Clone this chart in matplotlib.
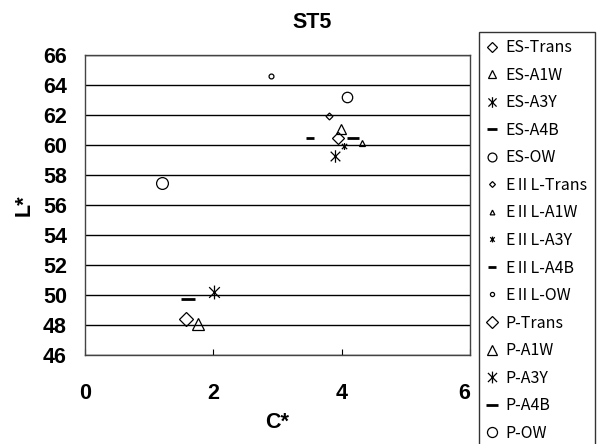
import matplotlib
matplotlib.use("Agg")
import matplotlib.pyplot as plt
from matplotlib.path import Path

# C* / L* readings for ST5, one point per sample
es_labels = ["ES-Trans", "ES-A1W", "ES-A3Y", "ES-A4B", "ES-OW"]
es_c = [3.95, 3.99, 3.89, 4.18, 4.08]
es_l = [60.5, 61.05, 59.3, 60.5, 63.2]

e2l_labels = ["EⅡL-Trans", "EⅡL-A1W", "EⅡL-A3Y", "EⅡL-A4B", "EⅡL-OW"]
e2l_c = [3.80, 4.31, 4.03, 3.50, 2.90]
e2l_l = [61.95, 60.15, 59.93, 60.45, 64.6]

p_labels = ["P-Trans", "P-A1W", "P-A3Y", "P-A4B", "P-OW"]
p_c = [1.57, 1.76, 2.01, 1.61, 1.20]
p_l = [48.4, 48.1, 50.2, 49.75, 57.5]

# x-with-a-vertical-bar star marker
star = Path([(-1, -1), (1, 1), (-1, 1), (1, -1), (0, -1.3), (0, 1.3)],
            [Path.MOVETO, Path.LINETO, Path.MOVETO, Path.LINETO, Path.MOVETO, Path.LINETO])
markers = ["D", "^", star, "_", "o"]

fig = plt.figure(figsize=(6.07, 4.44), dpi=100)
ax = fig.add_axes([85 / 607, 1 - 355 / 444, 385 / 607, 300 / 444])

groups = [(es_labels, es_c, es_l, [6, 7, 9, 9, 7.5]),
          (e2l_labels, e2l_c, e2l_l, [3.5, 4, 5, 6, 3.5]),
          (p_labels, p_c, p_l, [7, 8, 10, 10, 8.5])]
for labels, cs, ls, sizes in groups:
    for lab, c, l, m, s in zip(labels, cs, ls, markers, sizes):
        ax.plot([c], [l], linestyle="none", marker=m, markersize=s,
                markerfacecolor="none", markeredgecolor="black",
                markeredgewidth=2 if m == "_" else 0.9, label=lab)

ax.set_xlim(0, 6)
ax.set_ylim(46, 66)
ax.set_xticks([0, 2, 4, 6])
ax.set_yticks(range(46, 67, 2))
ax.yaxis.grid(True, color="black", linewidth=1)
ax.set_axisbelow(True)
for sp in ax.spines.values():
    sp.set_color("#444444")
    sp.set_linewidth(1)

tick_font = {"family": "Liberation Sans", "weight": "bold", "size": 15.5}
ax.tick_params(axis="x", direction="in", length=4, pad=20)
ax.tick_params(axis="y", length=0, pad=13)
for t in ax.get_xticklabels() + ax.get_yticklabels():
    t.set_fontproperties(tick_font)
ax.get_xticklabels()[-1].set_horizontalalignment("right")

ax.set_xlabel("C*", fontdict=tick_font, labelpad=6)
ax.set_ylabel("L*", fontdict=tick_font, labelpad=6)
# chart title is centred over the whole chart area, not only the plot
fig.text(312 / 607, 1 - 22 / 444, "ST5", ha="center", va="center",
         fontdict=tick_font)

leg = fig.legend(loc="upper left", bbox_to_anchor=(479 / 607, 1 - 32 / 444),
                 frameon=True, fancybox=False, edgecolor="black",
                 prop={"family": ["Noto Sans CJK JP", "DejaVu Sans"], "size": 11.5},
                 labelspacing=0.66, handlelength=0.7, handletextpad=0.5,
                 borderpad=0.45, borderaxespad=0, markerscale=0.85)
leg.get_frame().set_linewidth(1)

fig.savefig("out.png", dpi=100)
